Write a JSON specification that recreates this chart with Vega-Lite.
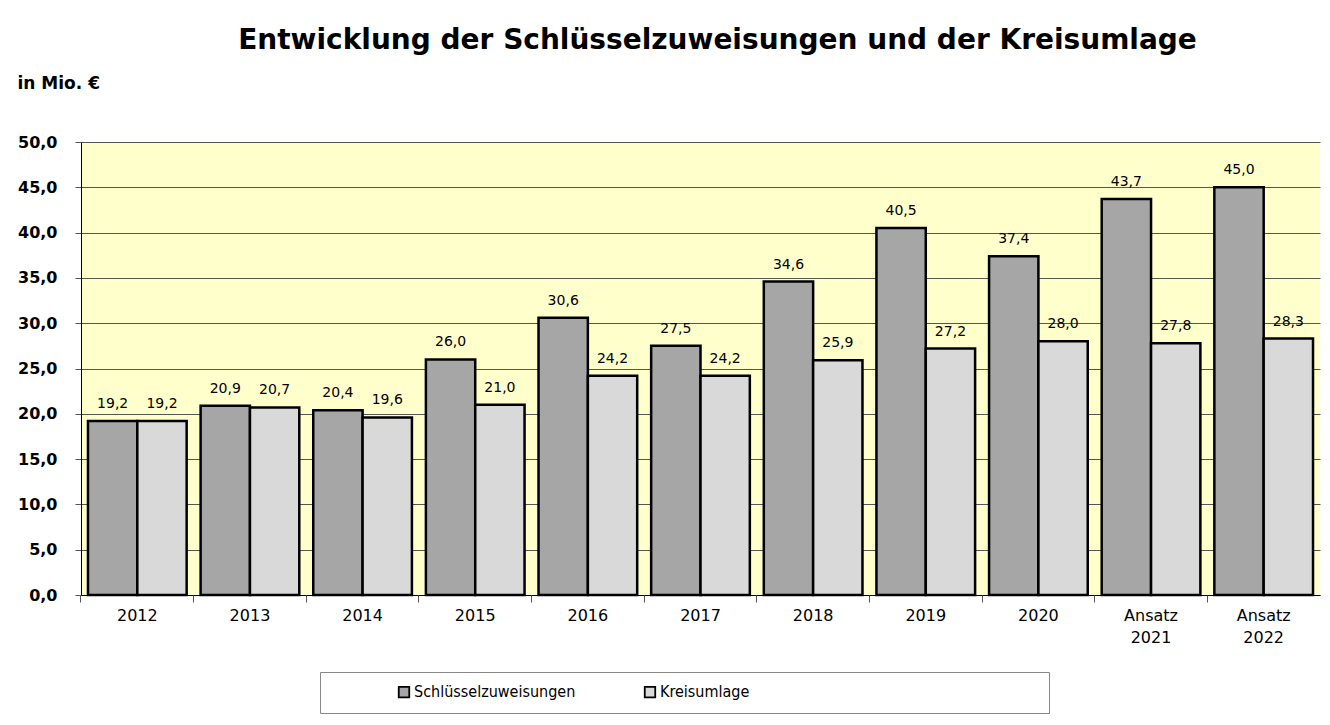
{
  "$schema": "https://vega.github.io/schema/vega-lite/v6.json",
  "autosize": "none",
  "width": 1239,
  "height": 453,
  "padding": {"left": 81, "top": 142, "right": 10, "bottom": 130},
  "background": "white",
  "config": {
    "locale": {"number": {"decimal": ",", "thousands": ".", "grouping": [3], "currency": ["", " €"]}},
    "view": {"fill": "#FFFFCC", "stroke": null},
    "font": "DejaVu Sans"
  },
  "title": {
    "text": "Entwicklung der Schlüsselzuweisungen und der Kreisumlage",
    "fontSize": 28,
    "font": "DejaVu Sans",
    "fontWeight": "bold",
    "color": "black",
    "anchor": "middle",
    "offset": 19,
    "dx": 17
  },
  "data": {
    "values": [
      {"jahr": "2012", "reihe": "Schlüsselzuweisungen", "wert": 19.2},
      {"jahr": "2012", "reihe": "Kreisumlage", "wert": 19.2},
      {"jahr": "2013", "reihe": "Schlüsselzuweisungen", "wert": 20.9},
      {"jahr": "2013", "reihe": "Kreisumlage", "wert": 20.7},
      {"jahr": "2014", "reihe": "Schlüsselzuweisungen", "wert": 20.4},
      {"jahr": "2014", "reihe": "Kreisumlage", "wert": 19.6},
      {"jahr": "2015", "reihe": "Schlüsselzuweisungen", "wert": 26.0},
      {"jahr": "2015", "reihe": "Kreisumlage", "wert": 21.0},
      {"jahr": "2016", "reihe": "Schlüsselzuweisungen", "wert": 30.6},
      {"jahr": "2016", "reihe": "Kreisumlage", "wert": 24.2},
      {"jahr": "2017", "reihe": "Schlüsselzuweisungen", "wert": 27.5},
      {"jahr": "2017", "reihe": "Kreisumlage", "wert": 24.2},
      {"jahr": "2018", "reihe": "Schlüsselzuweisungen", "wert": 34.6},
      {"jahr": "2018", "reihe": "Kreisumlage", "wert": 25.9},
      {"jahr": "2019", "reihe": "Schlüsselzuweisungen", "wert": 40.5},
      {"jahr": "2019", "reihe": "Kreisumlage", "wert": 27.2},
      {"jahr": "2020", "reihe": "Schlüsselzuweisungen", "wert": 37.4},
      {"jahr": "2020", "reihe": "Kreisumlage", "wert": 28.0},
      {"jahr": "Ansatz 2021", "reihe": "Schlüsselzuweisungen", "wert": 43.7},
      {"jahr": "Ansatz 2021", "reihe": "Kreisumlage", "wert": 27.8},
      {"jahr": "Ansatz 2022", "reihe": "Schlüsselzuweisungen", "wert": 45.0},
      {"jahr": "Ansatz 2022", "reihe": "Kreisumlage", "wert": 28.3}
    ]
  },
  "encoding": {
    "y": {
      "field": "wert",
      "type": "quantitative",
      "scale": {"domain": [0, 50], "nice": false, "zero": true},
      "axis": {
        "values": [0, 5, 10, 15, 20, 25, 30, 35, 40, 45, 50],
        "format": ".1f",
        "labelFontSize": 16,
        "labelFontWeight": "bold",
        "labelColor": "black",
        "labelPadding": 18,
        "tickSize": 6,
        "tickColor": "#555555",
        "domainColor": "black",
        "gridColor": "#555555",
        "gridWidth": 1,
        "title": "in Mio. €",
        "titleAngle": 0,
        "titleX": -64,
        "titleY": -59,
        "titleAlign": "left",
        "titleBaseline": "middle",
        "titleFontSize": 17,
        "titleFontWeight": "bold",
        "titleColor": "black"
      }
    },
    "xOffset": {
      "field": "reihe",
      "type": "nominal",
      "sort": ["Schlüsselzuweisungen", "Kreisumlage"],
      "scale": {"paddingInner": 0, "paddingOuter": 0}
    }
  },
  "layer": [
    {
      "mark": {"type": "bar", "stroke": "black", "strokeWidth": 2.5},
      "encoding": {
        "x": {
          "field": "jahr",
          "type": "nominal",
          "sort": null,
          "scale": {"paddingInner": 0.124, "paddingOuter": 0.062},
          "axis": {
            "orient": "bottom",
            "title": null,
            "labelAngle": 0,
            "labelFontSize": 16,
            "labelColor": "black",
            "labelPadding": 12,
            "labelLineHeight": 22,
            "labelBaseline": "top",
            "labelExpr": "indexof(datum.label, ' ') > 0 ? split(datum.label, ' ') : datum.label",
            "ticks": false,
            "domainColor": "black"
          }
        },
        "color": {
          "field": "reihe",
          "type": "nominal",
          "sort": ["Schlüsselzuweisungen", "Kreisumlage"],
          "scale": {"domain": ["Schlüsselzuweisungen", "Kreisumlage"], "range": ["#A6A6A6", "#D9D9D9"]},
          "legend": {
            "title": " ",
            "titleOrient": "left",
            "titlePadding": 64,
            "titleFontSize": 10,
            "orient": "none",
            "legendX": 239,
            "legendY": 530,
            "direction": "horizontal",
            "columns": 2,
            "columnPadding": 65,
            "symbolType": "square",
            "symbolSize": 110,
            "symbolStrokeColor": "black",
            "symbolStrokeWidth": 1.8,
            "symbolOpacity": 1,
            "labelFont": "DejaVu Sans Condensed",
            "labelFontSize": 16,
            "labelLimit": 800,
            "labelColor": "black",
            "labelOffset": 2,
            "labelExpr": "datum.label == 'Kreisumlage' ? datum.label + '\u2003\u2003\u2003\u2003\u2003\u2003\u2003\u2003\u2003\u2003\u2003\u2003\u2003\u2003\u2003\u2003\u2003\u2003\u2003\u2002\u2005\u2006\u200b' : datum.label",
            "strokeColor": "#888888",
            "padding": 12,
            "fillColor": "white"
          }
        }
      }
    },
    {
      "mark": {"type": "text", "baseline": "bottom", "dy": -10, "fontSize": 14, "color": "black"},
      "encoding": {
        "x": {
          "field": "jahr",
          "type": "nominal",
          "sort": null,
          "scale": {"paddingInner": 0.124, "paddingOuter": 0.062},
          "axis": {
            "orient": "bottom",
            "title": null,
            "labels": false,
            "ticks": true,
            "tickSize": 7,
            "tickColor": "#555555",
            "bandPosition": -0.071,
            "domain": false,
            "grid": false
          }
        },
        "text": {"field": "wert", "type": "quantitative", "format": ".1f"}
      }
    }
  ],
  "resolve": {"axis": {"x": "independent"}}
}
